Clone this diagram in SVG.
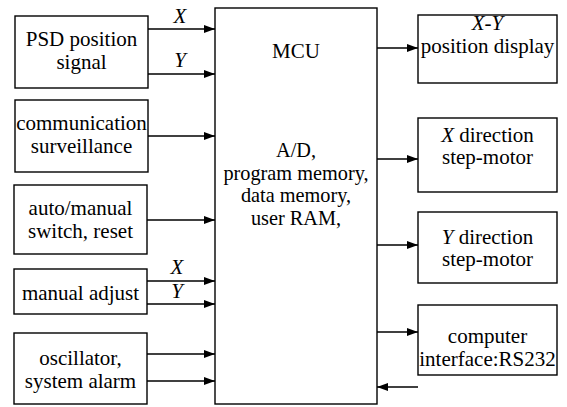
<svg xmlns="http://www.w3.org/2000/svg" width="567" height="407" viewBox="0 0 567 407">
  <style>
    .box { fill: #fff; stroke: #000; stroke-width: 1.4; }
    .lbl { font-family: 'Liberation Serif', Tinos, 'Times New Roman', 'DejaVu Serif', serif; font-size: 21px; fill: #000; text-anchor: middle; }
    .body { font-size: 20.3px; }
    .it { font-style: italic; }
    .wire { stroke: #000; stroke-width: 1.3; fill: none; marker-end: url(#arrow); }
  </style>
  <defs>
    <marker id="arrow" markerUnits="userSpaceOnUse" markerWidth="12" markerHeight="10" refX="11" refY="5" orient="auto">
      <path d="M0,1 L11,5 L0,9 Z" fill="#000"/>
    </marker>
  </defs>
  <rect width="567" height="407" fill="#fff"/>

  <!-- central controller -->
  <g id="mcu">
    <rect class="box" x="215" y="8" width="162" height="396"/>
    <text class="lbl" x="296" y="58">MCU</text>
    <text class="lbl body" x="296" y="157">A/D,</text>
    <text class="lbl body" x="296" y="179.5">program memory,</text>
    <text class="lbl body" x="296" y="202">data memory,</text>
    <text class="lbl body" x="296" y="224.5">user RAM,</text>
  </g>

  <!-- inputs -->
  <g id="psd">
    <rect class="box" x="15" y="16" width="133" height="72"/>
    <text class="lbl" x="81.5" y="46">PSD position</text>
    <text class="lbl" x="81.5" y="69">signal</text>
  </g>
  <g id="comm">
    <rect class="box" x="15" y="100" width="133" height="72"/>
    <text class="lbl" x="81.5" y="130">communication</text>
    <text class="lbl" x="81.5" y="153">surveillance</text>
  </g>
  <g id="auto">
    <rect class="box" x="14" y="185" width="133" height="69"/>
    <text class="lbl" x="80.5" y="215">auto/manual</text>
    <text class="lbl" x="80.5" y="238">switch, reset</text>
  </g>
  <g id="manual">
    <rect class="box" x="14" y="269" width="133" height="45"/>
    <text class="lbl" x="80.5" y="300">manual adjust</text>
  </g>
  <g id="osc">
    <rect class="box" x="14" y="333" width="133" height="71"/>
    <text class="lbl" x="80.5" y="365">oscillator,</text>
    <text class="lbl" x="80.5" y="388">system alarm</text>
  </g>

  <!-- outputs -->
  <g id="display">
    <rect class="box" x="418" y="15" width="139" height="68"/>
    <text class="lbl it" x="487.5" y="30">X-Y</text>
    <text class="lbl" x="487.5" y="53">position display</text>
  </g>
  <g id="xmotor">
    <rect class="box" x="418" y="118" width="139" height="74"/>
    <text class="lbl" x="487.5" y="142"><tspan class="it">X</tspan> direction</text>
    <text class="lbl" x="487.5" y="164">step-motor</text>
  </g>
  <g id="ymotor">
    <rect class="box" x="418" y="212" width="139" height="71"/>
    <text class="lbl" x="487.5" y="244"><tspan class="it">Y</tspan> direction</text>
    <text class="lbl" x="487.5" y="266">step-motor</text>
  </g>
  <g id="rs232">
    <rect class="box" x="418" y="305" width="139" height="70"/>
    <text class="lbl" x="487.5" y="343">computer</text>
    <text class="lbl" x="487.5" y="366">interface:RS232</text>
  </g>

  <!-- connectors -->
  <g id="connectors">
    <line class="wire" x1="148" y1="29" x2="215" y2="29"/>
    <line class="wire" x1="148" y1="74" x2="215" y2="74"/>
    <line class="wire" x1="148" y1="136" x2="215" y2="136"/>
    <line class="wire" x1="147" y1="220" x2="215" y2="220"/>
    <line class="wire" x1="147" y1="281" x2="215" y2="281"/>
    <line class="wire" x1="147" y1="304" x2="215" y2="304"/>
    <line class="wire" x1="147" y1="354" x2="215" y2="354"/>
    <line class="wire" x1="147" y1="381" x2="215" y2="381"/>
    <line class="wire" x1="377" y1="48" x2="418" y2="48"/>
    <line class="wire" x1="377" y1="159" x2="418" y2="159"/>
    <line class="wire" x1="377" y1="245" x2="418" y2="245"/>
    <line class="wire" x1="377" y1="332" x2="418" y2="332"/>
    <line class="wire" x1="418" y1="387" x2="377" y2="387"/>
    <text class="lbl it" x="180" y="23">X</text>
    <text class="lbl it" x="180" y="67">Y</text>
    <text class="lbl it" x="177" y="274">X</text>
    <text class="lbl it" x="177" y="298">Y</text>
  </g>
</svg>
